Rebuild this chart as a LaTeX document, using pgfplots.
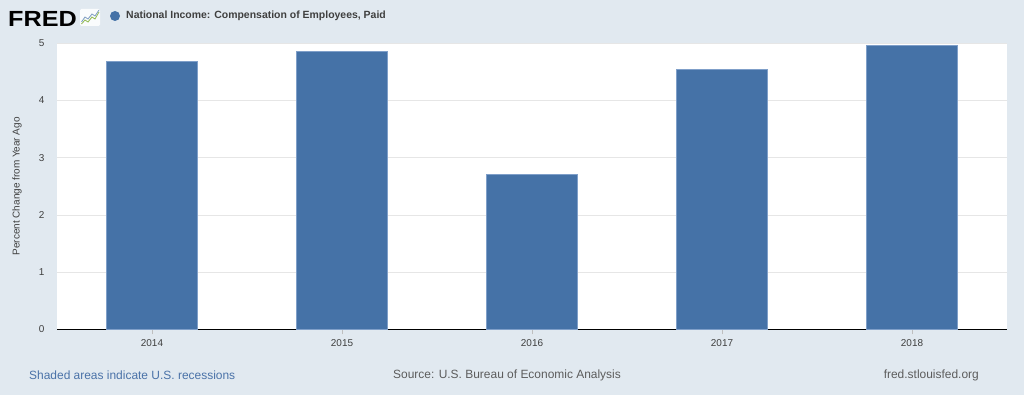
\documentclass[border=0pt]{standalone}
\usepackage{pgfplots}
\pgfplotsset{compat=1.18}
\usepackage{fontspec}
\setmainfont{Liberation Sans}
\definecolor{fredbg}{HTML}{E1E9F0}
\definecolor{fredbar}{HTML}{4572A7}
\definecolor{fredbaredge}{HTML}{7F9FC9}
\definecolor{fredgrid}{HTML}{E6E6E6}
\definecolor{fredtext}{HTML}{3F3F3F}
\definecolor{fredlink}{HTML}{4A72A8}
\definecolor{fredgreen}{HTML}{8DB84B}
\begin{document}
\begin{tikzpicture}[x=1bp,y=1bp]
\fill[fredbg] (0,0) rectangle (1024,395);
% logo
\node[anchor=base west,inner sep=0,font=\fontsize{22}{22}\selectfont\bfseries] at (8,369) {\scalebox{1.15}[1]{FRED}};
\fill[white!85!fredbg,rounded corners=1.5] (80,369) rectangle (100,386);
\draw[fredgreen,line width=0.8] (81.5,371) -- (85,375) -- (88,373) -- (92,378) -- (95,376) -- (99,383);
\draw[fredbar!70,line width=0.8] (81.5,373) -- (85,378) -- (88,376) -- (92,381) -- (95,379) -- (99,385);
% legend / title
\fill[fredbar] (115,379) circle (5);
\node[anchor=west,inner sep=0,text=fredtext,font=\fontsize{10.5}{12}\selectfont\bfseries] at (126,379) {National Income: Compensation of Employees, Paid};
\begin{axis}[
  at={(57bp,65.7bp)}, anchor=south west,
  scale only axis, width=950bp, height=286bp,
  xmin=-0.5, xmax=4.5, ymin=0, ymax=5,
  axis background/.style={fill=white},
  ybar, bar width=91bp,
  xtick=data, xticklabels={2014,2015,2016,2017,2018},
  ytick={0,1,2,3,4,5},
  axis lines*=left,
  y axis line style={draw=none},
  x axis line style={draw=black,line width=1.3bp},
  xtick align=outside,
  x tick style={draw=gray!50,line width=0.6bp},
  major tick length=5bp,
  y tick style={draw=none},
  ymajorgrids, major grid style={draw=fredgrid,line width=0.8bp},
  /pgf/number format/assume math mode=true,
  ticklabel style={text=fredtext,font=\fontsize{10}{12}\selectfont},
  yticklabel style={xshift=-9bp},
  xticklabel style={yshift=-2bp},
  ylabel={Percent Change from Year Ago},
  ylabel style={text=fredtext,font=\fontsize{10}{12}\selectfont,at={(axis description cs:-0.042,0.5)},anchor=center},
  clip=false,
]
\addplot[fill=fredbar,draw=fredbaredge,line width=0.7bp] coordinates {
  (0,4.684) (1,4.860) (2,2.707) (3,4.537) (4,4.965)
};
\end{axis}
\node[anchor=west,inner sep=0,text=fredlink,font=\fontsize{12}{14}\selectfont] at (29,20) {Shaded areas indicate U.S. recessions};
\node[inner sep=0,text=fredtext!85,font=\fontsize{12}{14}\selectfont] at (507,20) {Source: U.S. Bureau of Economic Analysis};
\node[anchor=east,inner sep=0,text=fredtext!85,font=\fontsize{12}{14}\selectfont] at (979,20) {fred.stlouisfed.org};
\end{tikzpicture}
\end{document}
